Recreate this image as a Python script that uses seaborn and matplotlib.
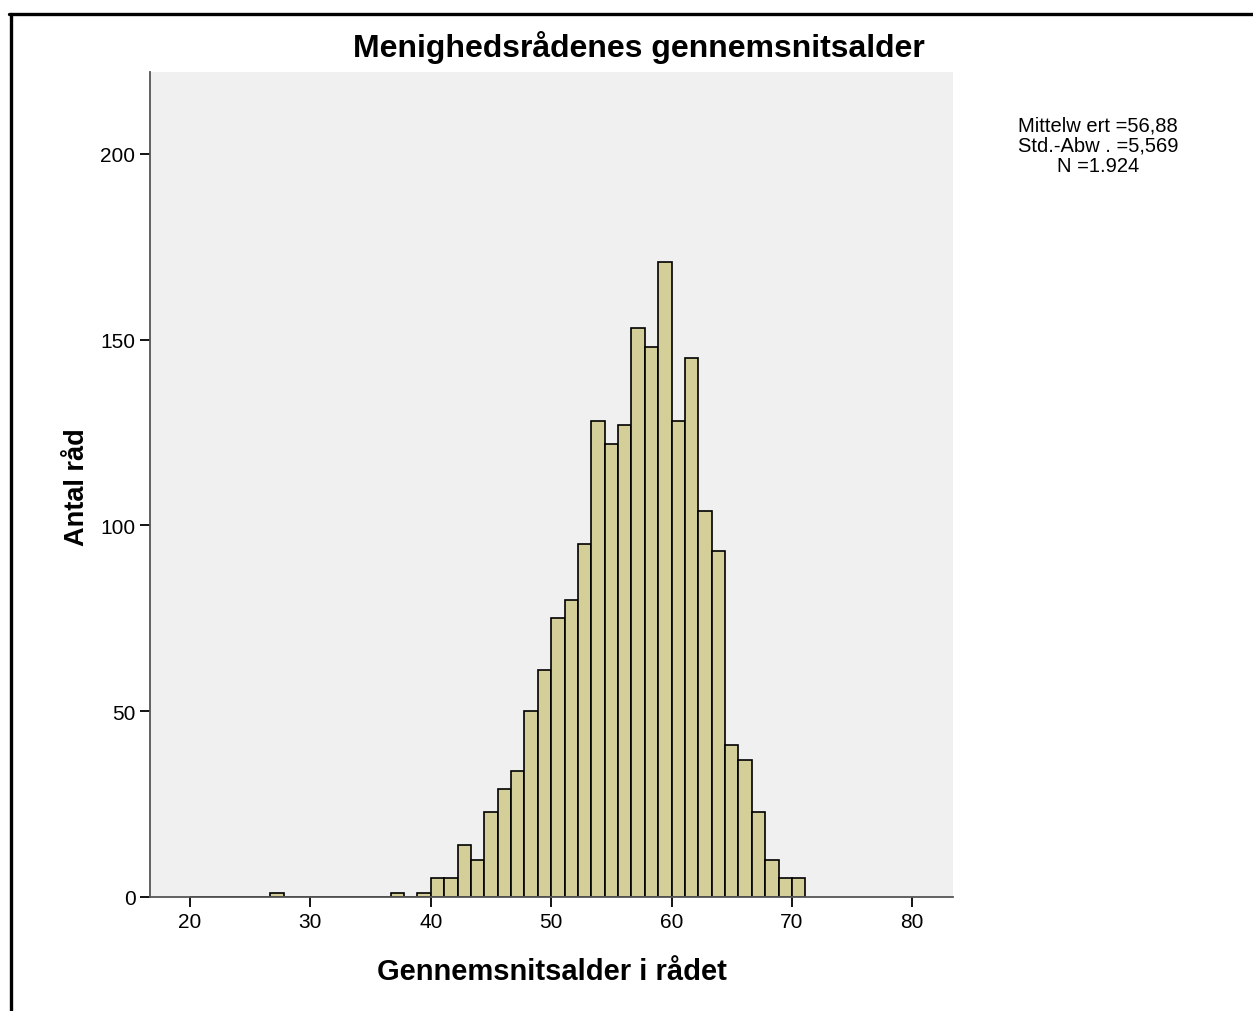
import numpy as np
import pandas as pd
import matplotlib
matplotlib.use("Agg")
import matplotlib.pyplot as plt
from matplotlib.lines import Line2D
import seaborn as sns

# ---- data ----
bin_start = 20.0
bin_width = 10.0 / 9.0
bin_counts = [0, 0, 0, 0, 0, 0, 1, 0, 0, 0,
              0, 0, 0, 0, 0, 1, 0, 1, 5, 5,
              14, 10, 23, 29, 34, 50, 61, 75, 80, 95,
              128, 122, 127, 153, 148, 171, 128, 145, 104, 93,
              41, 37, 23, 10, 5, 5]
x_ticks = [20, 30, 40, 50, 60, 70, 80]
y_ticks = [0, 50, 100, 150, 200]
title = "Menighedsrådenes gennemsnitsalder"
x_label = "Gennemsnitsalder i rådet"
y_label = "Antal råd"
stats_lines = ["Mittelw ert =56,88", "Std.-Abw . =5,569", "N =1.924"]

n_bins = len(bin_counts)
edges = [bin_start + bin_width * k for k in range(n_bins + 1)]
centers = [(edges[k] + edges[k + 1]) / 2 for k in range(n_bins)]
df = pd.DataFrame({"age": centers, "count": bin_counts})

sns.set_theme(style="white")
plt.rcParams["font.family"] = ["Liberation Sans", "DejaVu Sans"]
plt.rcParams["text.color"] = "black"
plt.rcParams["xtick.color"] = "black"
plt.rcParams["ytick.color"] = "black"

W, H = 1253, 1012
fig = plt.figure(figsize=(W / 100, H / 100), dpi=100)
fig.patch.set_facecolor("white")
ax = fig.add_axes([150 / W, (H - 898) / H, (953 - 150) / W, (898 - 73) / H])
ax.set_facecolor("#F0F0F0")

sns.histplot(data=df, x="age", weights="count", bins=edges, ax=ax,
             color="#D4CF98", alpha=1.0, edgecolor="black", linewidth=1.2)

ax.set_xlim(16.68, 83.38)
ax.set_ylim(0, 222)
ax.set_xticks(x_ticks)
ax.set_yticks(y_ticks)
ax.set_xticklabels([str(t) for t in x_ticks], fontsize=15, color="black")
ax.set_yticklabels([str(t) for t in y_ticks], fontsize=15, color="black")
ax.tick_params(axis="both", direction="out", length=7.5, width=1.3,
               color="black", pad=3, bottom=True, left=True)

for s in ["top", "right"]:
    ax.spines[s].set_visible(False)
for s in ["left", "bottom"]:
    ax.spines[s].set_color("#555555")
    ax.spines[s].set_linewidth(1.3)

ax.set_xlabel("")
ax.set_ylabel("")
fig.text(552 / W, 1 - 972 / H, x_label, ha="center", va="center",
         fontsize=21, fontweight="bold", color="black")
fig.text(77 / W, 1 - 487 / H, y_label, ha="center", va="center",
         fontsize=19.5, fontweight="bold", rotation=90, color="black")
fig.text(639 / W, 1 - 48 / H, title, ha="center", va="center",
         fontsize=23, fontweight="bold", color="black")

for i, line in enumerate(stats_lines):
    fig.text(1098 / W, 1 - (126 + i * 20.5) / H, line, ha="center",
             va="center", fontsize=14.5, color="black")

# outer frame (top and left)
fig.add_artist(Line2D([9 / W, 1.0], [1 - 14.5 / H, 1 - 14.5 / H],
                      transform=fig.transFigure, color="black", linewidth=2.4))
fig.add_artist(Line2D([10.5 / W, 10.5 / W], [0, 1 - 14.5 / H],
                      transform=fig.transFigure, color="black", linewidth=2.4))

fig.savefig("out.png", dpi=100, facecolor="white")
